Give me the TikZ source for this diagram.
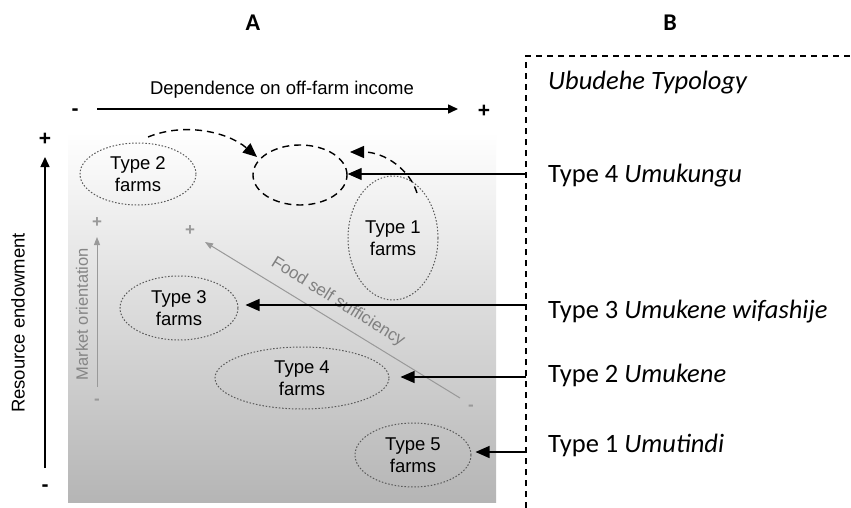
\documentclass[tikz,border=0pt]{standalone}
\usepackage{fontspec}
\setmainfont{Liberation Sans}
\newfontfamily\calfont{Carlito}
\usetikzlibrary{arrows.meta,shapes.geometric}
\begin{document}
\begin{tikzpicture}[x=1pt,y=-1pt,
  farm/.style={ellipse, draw=black!65, dash pattern=on 1.5pt off 1.8pt, line width=1pt, inner sep=0pt,
    font=\fontsize{18.5}{22}\selectfont, align=center},
  bigtip/.style={-{Triangle[length=14pt,width=12pt]}, line width=1.2pt},
  axistip/.style={-{Triangle[length=10pt,width=9pt]}, line width=1.5pt},
  graytip/.style={-{Triangle[length=8pt,width=6pt]}, draw=black!40, line width=1pt},
  curvedash/.style={-{Triangle[length=14pt,width=12pt]}, dash pattern=on 7pt off 5pt, line width=1.4pt},
  sign/.style={font=\bfseries\fontsize{21}{21}\selectfont, inner sep=0pt},
  graysign/.style={font=\bfseries\fontsize{17}{17}\selectfont, text=black!40, inner sep=0pt},
  btext/.style={anchor=base west, font=\calfont\fontsize{26.5}{28}\selectfont, inner sep=0pt},
  head/.style={font=\calfont\bfseries\fontsize{24}{24}\selectfont, inner sep=0pt}
]
\useasboundingbox (0,0) rectangle (851,508);
\fill[white] (0,0) rectangle (851,508);

% gradient background
\shade[top color=white, bottom color=black!29] (68,132) rectangle (496,502);

% headers
\node[head] (hA) at (253,23) {A};
\node[head] (hB) at (670,23) {B};

% horizontal axis
\coordinate (hx0) at (97,109);
\coordinate (hx1) at (458,109);
\draw[axistip] (hx0) -- (hx1);
\node[sign] (hminus) at (75,112) {-};
\node[sign] (hplus) at (484,111) {+};
\node[anchor=base, font=\fontsize{18.5}{19}\selectfont, inner sep=0pt] (hlab) at (282,95) {Dependence on off-farm income};

% vertical axis
\coordinate (vy0) at (45,468);
\coordinate (vy1) at (45,157);
\draw[axistip] (vy0) -- (vy1);
\node[sign] (vplus) at (45,139) {+};
\node[sign] (vminus) at (45,488) {-};
\node[rotate=90, font=\fontsize{18.5}{19}\selectfont, inner sep=0pt] (vlab) at (18,323) {Resource endowment};

% market orientation
\coordinate (m0) at (97,387);
\coordinate (m1) at (97,237);
\draw[graytip] (m0) -- (m1);
\node[graysign] (mplus) at (97,223) {+};
\node[graysign] (mminus) at (97,402) {-};
\node[rotate=90, text=black!48, font=\fontsize{16.5}{18}\selectfont, inner sep=0pt] (mlab) at (82,314) {Market orientation};

% food self sufficiency
\coordinate (f0) at (460,398);
\coordinate (f1) at (205,242);
\draw[graytip] (f0) -- (f1);
\node[graysign] (fplus) at (190,231) {+};
\node[graysign] (fminus) at (471,408) {-};
\node[rotate=-32, text=black!50, font=\fontsize{17}{18}\selectfont, inner sep=0pt] (flab) at (338,302) {Food self sufficiency};

% farm ellipses
\node[farm, minimum width=116pt, minimum height=62pt] (t2) at (138,174) {Type 2\\farms};
\node[farm, minimum width=90pt, minimum height=124pt] (t1) at (393,238) {Type 1\\farms};
\node[farm, minimum width=118pt, minimum height=64pt] (t3) at (179,308) {Type 3\\farms};
\node[farm, minimum width=174pt, minimum height=62pt] (t4) at (302,378) {Type 4\\farms};
\node[farm, minimum width=116pt, minimum height=64pt] (t5) at (413,455) {Type 5\\farms};
\node[ellipse, draw, dash pattern=on 7pt off 5pt, line width=1.4pt, minimum width=94pt, minimum height=60pt, inner sep=0pt] (dz) at (300,175) {};

% curved dashed arrows
\coordinate (ca0) at (148,137);
\coordinate (ca1) at (257,157);
\draw[curvedash] (ca0) .. controls (185,122) and (228,132) .. (ca1);
\coordinate (cb0) at (417,193);
\coordinate (cb1) at (350,152);
\draw[curvedash] (cb0) .. controls (410,170) and (385,152) .. (cb1);

% B box
\draw[dash pattern=on 6pt off 5pt, line width=1.3pt] (526,508) -- (526,56) -- (851,56);
\node[btext] (ub) at (548,90) {\itshape Ubudehe Typology};
\node[btext] (b4) at (548,182) {Type 4 \textit{Umukungu}};
\node[btext] (b3) at (548,318) {Type 3 \textit{Umukene wifashije}};
\node[btext] (b2) at (548,382) {Type 2 \textit{Umukene}};
\node[btext] (b1) at (548,452) {Type 1 \textit{Umutindi}};

% connectors
\coordinate (c4) at (526,174);
\coordinate (c3) at (526,305);
\coordinate (c2) at (526,377);
\coordinate (c1) at (526,452);
\draw[bigtip] (c4) -- (c4 -| dz.east);
\draw[bigtip, shorten >=7pt] (c3) -- (c3 -| t3.east);
\draw[bigtip, shorten >=11pt] (c2) -- (c2 -| t4.east);
\draw[bigtip, shorten >=4pt] (c1) -- (c1 -| t5.east);
\end{tikzpicture}
\end{document}
